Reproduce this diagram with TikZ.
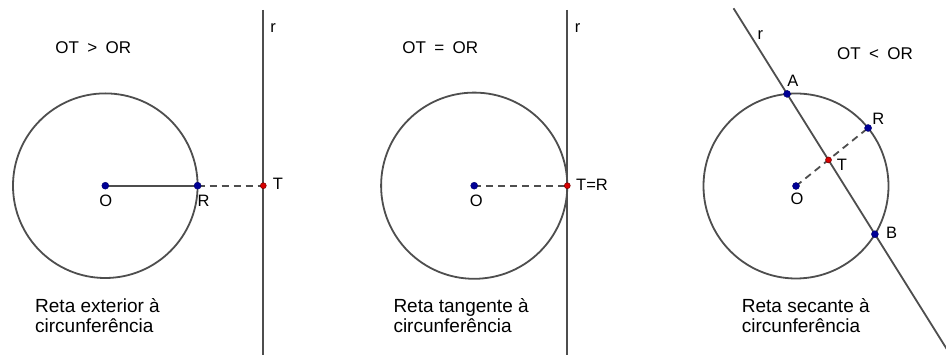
\documentclass[tikz,border=0pt]{standalone}
\usepackage{fontspec}
\setmainfont{Liberation Sans}
\usetikzlibrary{calc}
\definecolor{ln}{RGB}{78,78,78}
\definecolor{ptblue}{RGB}{0,0,150}
\definecolor{ptred}{RGB}{215,0,0}
\tikzset{
  geo/.style={draw=ln, line width=1.8pt},
  dashline/.style={draw=ln, line width=1.8pt, dash pattern=on 7pt off 5pt},
  bdot/.style={circle, fill=ptblue, draw=ptblue!70!black, line width=0.4pt, minimum size=7pt, inner sep=0pt},
  rdot/.style={circle, fill=ptred, draw=ptred!55!black, line width=0.5pt, minimum size=6pt, inner sep=0pt},
  lbl/.style={inner sep=0pt, font=\fontsize{16.5}{18}\selectfont},
  reltext/.style={inner sep=0pt, font=\fontsize{17}{19}\selectfont},
  captext/.style={inner sep=0pt, anchor=base west, font=\fontsize{19}{21}\selectfont}
}
\newcommand{\wsp}{\hspace*{8.3pt}}
\begin{document}
\begin{tikzpicture}[x=1pt,y=-1pt]
\useasboundingbox (0,0) rectangle (946,355);
\fill[white] (0,0) rectangle (946,355);
\clip (0,0) rectangle (946,355);
% ---------- panel 1 ----------
\coordinate (O1) at (105.3,185.7);
\coordinate (R1) at (197.6,185.7);
\coordinate (T1) at (263.3,185.7);
\coordinate (r1top) at (263.3,10);
\coordinate (r1bot) at (263.3,356);
\draw[geo] (O1) circle[radius=92.3];
\draw[geo] (r1top) -- (r1bot);
\draw[geo] (O1) -- (R1);
\draw[dashline] (R1) -- (T1);
\node[bdot] (dO1) at (O1) {};
\node[bdot] (dR1) at (R1) {};
\node[rdot] (dT1) at (T1) {};
\node[reltext] (rel1) at (93.3,48) {OT\wsp>\wsp OR};
\node[lbl] (lr1) at (273,28.5) {r};
\node[lbl] (lT1) at (278,183.5) {T};
\node[lbl] (lO1) at (105.7,201) {O};
\node[lbl] (lR1) at (203.7,201) {R};
\node[captext] (c1a) at (35,313) {Reta exterior à};
\node[captext] (c1b) at (35,333) {circunferência};
% ---------- panel 2 ----------
\coordinate (O2) at (474.2,185.7);
\coordinate (T2) at (567.3,185.7);
\coordinate (r2top) at (567.3,10);
\coordinate (r2bot) at (567.3,356);
\draw[geo] (O2) circle[radius=93.1];
\draw[geo] (r2top) -- (r2bot);
\draw[dashline] (O2) -- (T2);
\node[bdot] (dO2) at (O2) {};
\node[rdot] (dT2) at (T2) {};
\node[reltext] (rel2) at (440.3,48) {OT\wsp=\wsp OR};
\node[lbl] (lr2) at (577.5,28.5) {r};
\node[lbl] (lT2) at (592,185) {T=R};
\node[lbl] (lO2) at (476.3,201) {O};
\node[captext] (c2a) at (393.3,313) {Reta tangente à};
\node[captext] (c2b) at (393.3,333) {circunferência};
% ---------- panel 3 ----------
\coordinate (O3) at (796,186);
\coordinate (A3) at (787.1,93.9);
\coordinate (R3) at (868.1,128);
\coordinate (B3) at (874.9,234.2);
\coordinate (T3) at (intersection of A3--B3 and O3--R3);
\coordinate (r3top) at ($(A3)!-0.61!(B3)$);
\coordinate (r3bot) at ($(A3)!1.9!(B3)$);
\draw[geo] (O3) circle[radius=92.5];
\draw[geo] (r3top) -- (r3bot);
\draw[dashline] (O3) -- (R3);
\node[bdot] (dO3) at (O3) {};
\node[bdot] (dA3) at (A3) {};
\node[bdot] (dR3) at (R3) {};
\node[bdot] (dB3) at (B3) {};
\node[rdot] (dT3) at (T3) {};
\node[reltext] (rel3) at (875,53.5) {OT\wsp<\wsp OR};
\node[lbl] (lr3) at (760.3,35) {r};
\node[lbl] (lA3) at (792.8,81.3) {A};
\node[lbl] (lR3) at (878.3,119) {R};
\node[lbl] (lT3) at (842,165) {T};
\node[lbl] (lO3) at (797,199) {O};
\node[lbl] (lB3) at (891.7,232.5) {B};
\node[captext] (c3a) at (741.7,313) {Reta secante à};
\node[captext] (c3b) at (741.7,333) {circunferência};
\end{tikzpicture}
\end{document}
